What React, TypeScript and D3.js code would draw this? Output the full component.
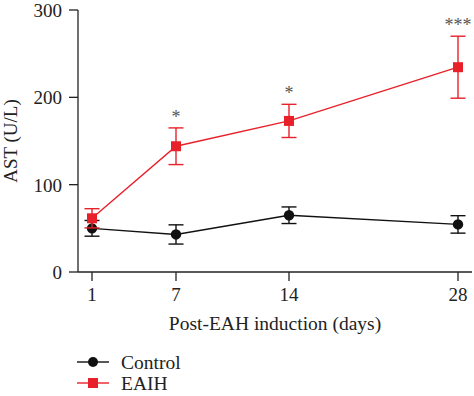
import React from "react";
import * as d3 from "d3";

const days = [1, 7, 14, 28];
const controlMean = [50, 43, 65, 54.5];
const controlErr = [9, 11, 9.5, 10];
const eaihMean = [61.5, 144, 173, 234.5];
const eaihErr = [11, 21, 19, 35.5];
const stars = ["", "*", "*", "***"];
const yTicks = [0, 100, 200, 300];
const seriesNames = ["Control", "EAIH"];

const W = 474;
const H = 396;
const RED = "#e8202a";
const BLACK = "#111";
const FONT = "'Liberation Serif'";

export default function App() {
  const y = d3.scaleLinear().domain([0, 300]).range([272, 10]);
  // uneven spacing of the original x axis (piecewise linear)
  const x = d3.scaleLinear().domain(days).range([92, 176, 289, 458]);
  const line = d3
    .line<number>()
    .x((_, i) => x(days[i]))
    .y((d) => y(d));

  const capW = 7.5;
  const ts = { fontFamily: FONT } as React.CSSProperties;

  const renderSeries = (means: number[], errs: number[], color: string, square: boolean) => (
    <g>
      <path d={line(means) || ""} fill="none" stroke={color} strokeWidth={1.4} />
      {means.map((m, i) => (
        <g key={i} stroke={color} strokeWidth={1.4}>
          <line x1={x(days[i])} x2={x(days[i])} y1={y(m - errs[i])} y2={y(m + errs[i])} />
          <line x1={x(days[i]) - capW} x2={x(days[i]) + capW} y1={y(m + errs[i])} y2={y(m + errs[i])} />
          <line x1={x(days[i]) - capW} x2={x(days[i]) + capW} y1={y(m - errs[i])} y2={y(m - errs[i])} />
        </g>
      ))}
      {means.map((m, i) =>
        square ? (
          <rect key={"m" + i} x={x(days[i]) - 5} y={y(m) - 5} width={10} height={10} fill={color} />
        ) : (
          <circle key={"m" + i} cx={x(days[i])} cy={y(m)} r={5.2} fill={color} />
        )
      )}
    </g>
  );

  return (
    <svg width={W} height={H} style={{ position: "absolute", left: 0, top: 0, background: "#fff" }}>
      {/* y axis */}
      <line x1={78} x2={78} y1={y(300)} y2={y(0)} stroke="#222" strokeWidth={1.3} />
      {yTicks.map((t) => (
        <g key={t}>
          <line x1={69} x2={78} y1={y(t)} y2={y(t)} stroke="#222" strokeWidth={1.3} />
          <text x={62} y={y(t)} dy="0.36em" textAnchor="end" fontSize={19} fill="#222" style={ts}>
            {t}
          </text>
        </g>
      ))}
      <text
        transform={`translate(17, ${(y(0) + y(300)) / 2}) rotate(-90)`}
        textAnchor="middle"
        fontSize={19}
        fill="#222"
        style={ts}
      >
        AST (U/L)
      </text>

      {/* x axis */}
      <line x1={78} x2={472} y1={y(0)} y2={y(0)} stroke="#222" strokeWidth={1.3} />
      {days.map((d) => (
        <g key={d}>
          <line x1={x(d)} x2={x(d)} y1={y(0)} y2={y(0) + 9} stroke="#222" strokeWidth={1.3} />
          <text x={x(d)} y={301} textAnchor="middle" fontSize={19} fill="#222" style={ts}>
            {d}
          </text>
        </g>
      ))}
      <text x={275} y={330} textAnchor="middle" fontSize={19.5} fill="#222" style={ts}>
        Post-EAH induction (days)
      </text>

      {renderSeries(controlMean, controlErr, BLACK, false)}
      {renderSeries(eaihMean, eaihErr, RED, true)}

      {stars.map((s, i) =>
        s ? (
          <text
            key={"s" + i}
            x={x(days[i])}
            y={y(eaihMean[i] + eaihErr[i]) - 5}
            textAnchor="middle"
            fontSize={18}
            fill="#555"
            style={ts}
          >
            {s}
          </text>
        ) : null
      )}

      {/* legend */}
      {seriesNames.map((n, i) => {
        const ly = 362 + i * 21;
        const c = i === 0 ? BLACK : RED;
        return (
          <g key={n}>
            <line x1={77} x2={109} y1={ly} y2={ly} stroke={c} strokeWidth={1.4} />
            {i === 0 ? (
              <circle cx={93} cy={ly} r={5} fill={c} />
            ) : (
              <rect x={88} y={ly - 5} width={10} height={10} fill={c} />
            )}
            <text x={121} y={ly} dy="0.35em" fontSize={19.5} fill="#222" style={ts}>
              {n}
            </text>
          </g>
        );
      })}
    </svg>
  );
}
